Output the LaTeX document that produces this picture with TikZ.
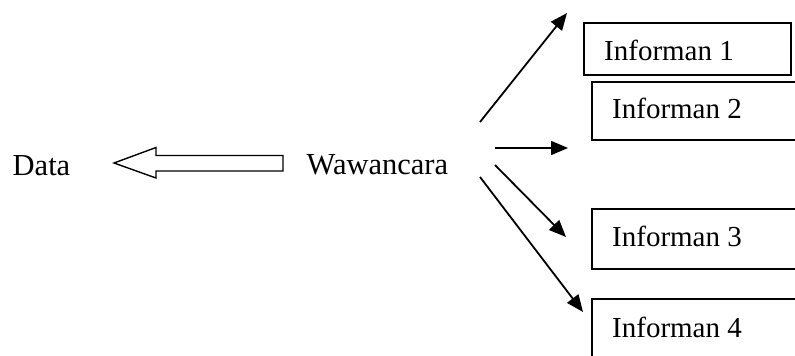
\documentclass[tikz,border=0pt]{standalone}
\usepackage{fontspec}
\setmainfont{Liberation Serif}
\usetikzlibrary{arrows.meta}
\begin{document}
\begin{tikzpicture}[x=1pt,y=-1pt,
  box/.style={draw,line width=1.7pt,inner sep=0pt,anchor=north west},
  lbl/.style={inner sep=0pt,anchor=base west,font=\fontsize{29}{34}\selectfont},
  big/.style={inner sep=0pt,anchor=base west,font=\fontsize{30.5}{36}\selectfont},
  conn/.style={line width=1.8pt,-{Triangle[length=17pt,width=14pt]}}]
\useasboundingbox (0,0) rectangle (795,356);
\clip (0,0) rectangle (795,356);
% text
\node[big] (data) at (12.5,175) {Data};
\node[big] (waw) at (306.5,174) {Wawancara};
% hollow arrow
\draw[line width=1.4pt,line join=miter] (114,163) -- (156,147.5) -- (156,155.5) -- (283,155.5) -- (283,171) -- (156,171) -- (156,178) -- cycle;
% boxes
\node[box,minimum width=207pt,minimum height=52pt] (b1) at (583,22) {};
\node[box,minimum width=212pt,minimum height=58pt] (b2) at (591,81) {};
\node[box,minimum width=212pt,minimum height=60pt] (b3) at (591,208) {};
\node[box,minimum width=212pt,minimum height=64pt] (b4) at (591,298) {};
\node[lbl] (t1) at (604,60) {Informan 1};
\node[lbl] (t2) at (612,118) {Informan 2};
\node[lbl] (t3) at (612,246) {Informan 3};
\node[lbl] (t4) at (612,337) {Informan 4};
% arrows
\coordinate (s1) at (480,122); \coordinate (e1) at (567,13);
\coordinate (s2) at (495,148); \coordinate (e2) at (568,148);
\coordinate (s3) at (495,165); \coordinate (e3) at (566,237);
\coordinate (s4) at (480,177); \coordinate (e4) at (583,312);
\draw[conn] (s1) -- (e1);
\draw[conn] (s2) -- (e2);
\draw[conn] (s3) -- (e3);
\draw[conn] (s4) -- (e4);
\end{tikzpicture}
\end{document}
